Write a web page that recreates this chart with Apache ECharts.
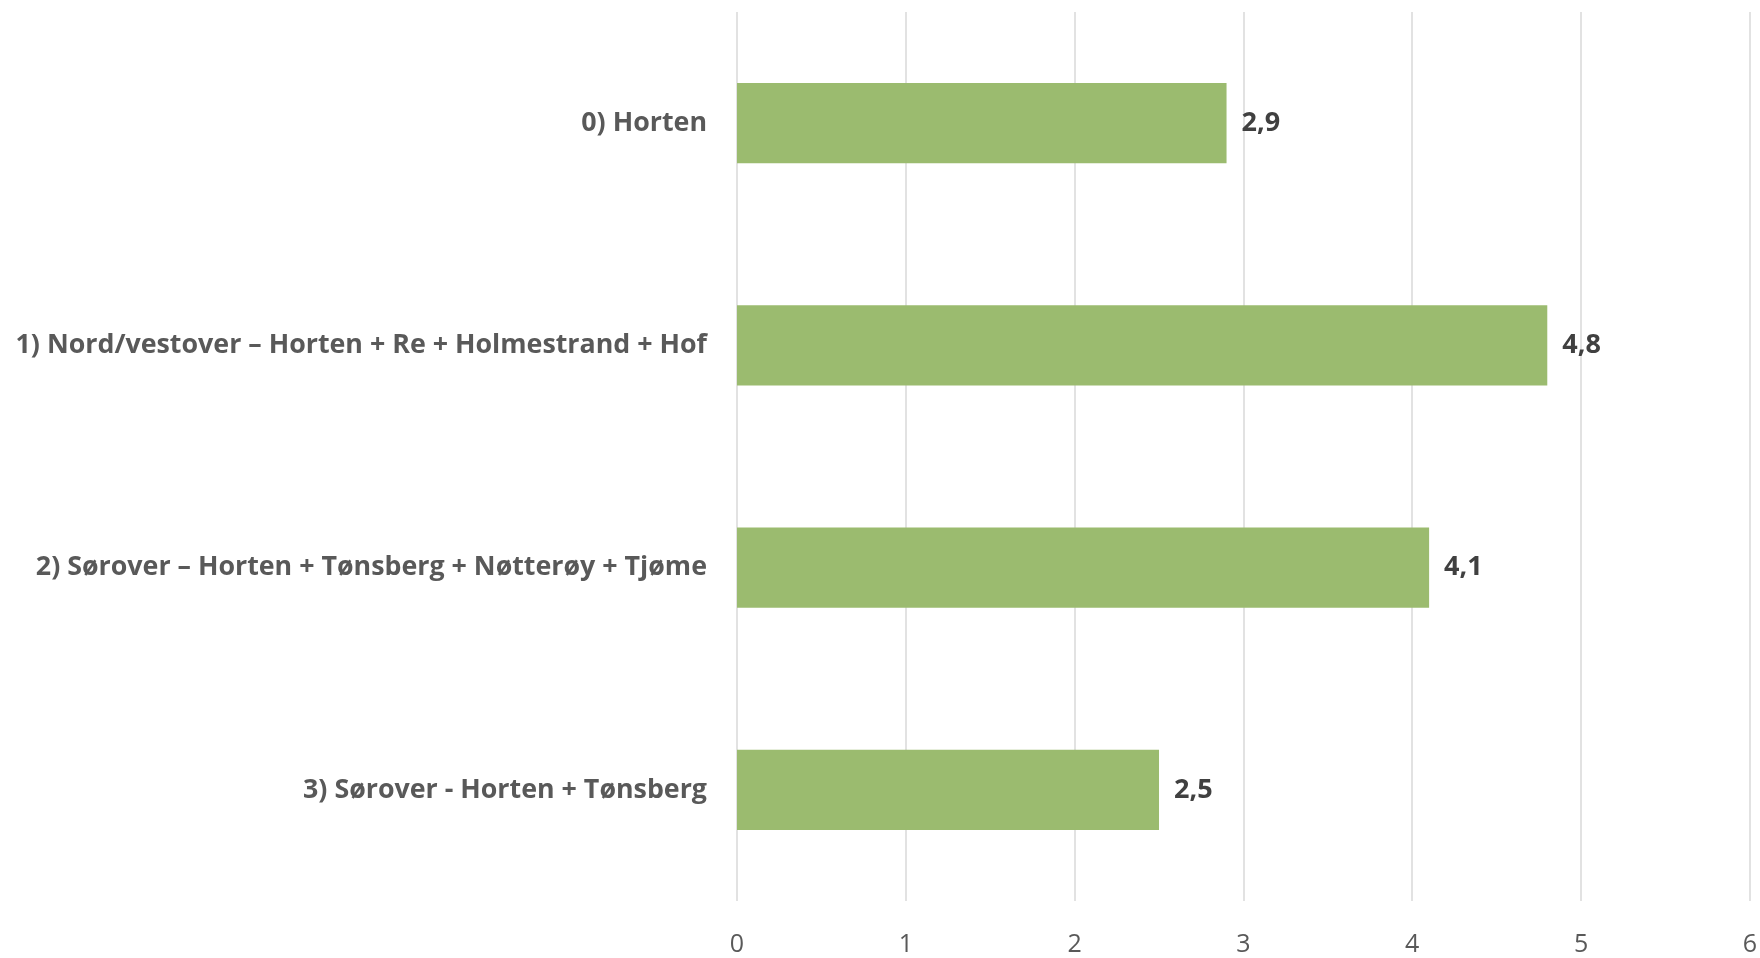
<!DOCTYPE html>
<html>
<head>
<meta charset="utf-8">
<script src="https://cdn.jsdelivr.net/npm/echarts@6/dist/echarts.min.js"></script>
<style>
  html, body { margin: 0; padding: 0; background: #fff; }
  #chart { width: 1760px; height: 958px; }
</style>
</head>
<body>
<div id="chart"></div>
<script>
const categories = [
  "0) Horten",
  "1) Nord/vestover – Horten + Re + Holmestrand + Hof",
  "2) Sørover – Horten + Tønsberg + Nøtterøy + Tjøme",
  "3) Sørover - Horten + Tønsberg"
];
const values = [2.9, 4.8, 4.1, 2.5];
const xTicks = [0, 1, 2, 3, 4, 5, 6];

const chart = echarts.init(document.getElementById("chart"));
const fontFamily = "'Open Sans', 'Noto Sans', sans-serif";

chart.setOption({
  animation: false,
  grid: { left: 737, right: 9, top: 12, bottom: 57, containLabel: false },
  xAxis: {
    type: "value",
    min: xTicks[0],
    max: xTicks[xTicks.length - 1],
    interval: 1,
    axisLine: { show: false },
    axisTick: { show: false },
    splitLine: { lineStyle: { color: "#d9d9d9", width: 1.5 } },
    axisLabel: {
      margin: 31,
      color: "#595959",
      fontSize: 25,
      fontFamily: fontFamily
    }
  },
  yAxis: {
    type: "category",
    data: categories,
    inverse: true,
    axisLine: { show: false },
    axisTick: { show: false },
    axisLabel: {
      margin: 30,
      color: "#595959",
      fontSize: 26.8,
      fontWeight: "bold",
      fontFamily: fontFamily
    }
  },
  series: [{
    type: "bar",
    data: values,
    barCategoryGap: "64%",
    itemStyle: { color: "#9bbb6f" },
    label: {
      show: true,
      position: "right",
      distance: 15,
      color: "#404040",
      fontSize: 27,
      fontWeight: "bold",
      fontFamily: fontFamily,
      formatter: p => String(p.value).replace(".", ",")
    }
  }]
});
</script>
</body>
</html>
